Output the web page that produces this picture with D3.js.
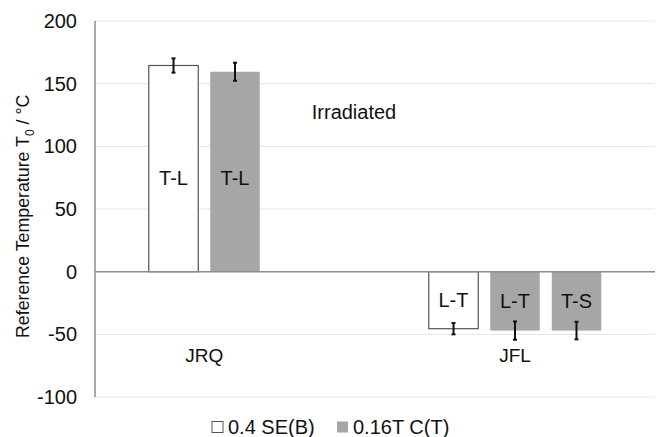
<!DOCTYPE html>
<html>
<head>
<meta charset="utf-8">
<script src="https://cdn.jsdelivr.net/npm/d3@7"></script>
<style>
  html, body { margin: 0; padding: 0; background: #fff; }
  svg text { font-family: "Liberation Sans", Arial, sans-serif; fill: #111; }
</style>
</head>
<body>
<svg id="chart" width="662" height="437"></svg>
<script>
// Materials (categories) and specimen types (series)
const categories = ["JRQ", "JFL"];
const seriesNames = ["0.4 SE(B)", "0.16T C(T)", "0.16T C(T) T-S"];
const legendNames = ["0.4 SE(B)", "0.16T C(T)"];

// T0 values in °C per series, in category order (null = no bar)
const seB = [164.5, -45.5];
const ctLT = [159.5, -47];
const ctTS = [null, -47];

// Error half-widths in °C
const errSeB = [5.7, 4.5];
const errCtLT = [7.2, 7.3];
const errCtTS = [null, 7];

// Orientation labels drawn inside bars
const orientSeB = ["T-L", "L-T"];
const orientCtLT = ["T-L", "L-T"];
const orientCtTS = [null, "T-S"];

const yTicks = [200, 150, 100, 50, 0, -50, -100];

const fills = ["#ffffff", "#a6a6a6", "#a6a6a6"];
const strokes = ["#555", "none", "none"];

const svg = d3.select("#chart");
const plotLeft = 95, plotRight = 655, plotTop = 21, plotBottom = 397;

const y = d3.scaleLinear().domain([-100, 200]).range([plotBottom, plotTop]);
const x = d3.scaleBand().domain(categories).range([plotLeft, plotRight]).padding(0);
const xs = d3.scaleBand().domain(d3.range(seriesNames.length))
  .range([0, x.bandwidth()]).paddingInner(0.195).paddingOuter(0.874);

const values = [seB, ctLT, ctTS];
const errs = [errSeB, errCtLT, errCtTS];
const orients = [orientSeB, orientCtLT, orientCtTS];

const bars = [];
seriesNames.forEach((s, si) => {
  categories.forEach((c, ci) => {
    const v = values[si][ci];
    if (v === null) return;
    bars.push({ si, c, v, e: errs[si][ci], label: orients[si][ci] });
  });
});

// Gridlines
svg.append("g")
  .selectAll("line")
  .data(yTicks.filter(t => t !== 0))
  .join("line")
  .attr("x1", plotLeft).attr("x2", plotRight)
  .attr("y1", d => y(d)).attr("y2", d => y(d))
  .attr("stroke", "#e4e4e4").attr("stroke-width", 1);

// Y axis tick labels (no tick marks), plain hyphen for negatives
const yAxis = d3.axisLeft(y).tickValues(yTicks).tickSize(0).tickPadding(18)
  .tickFormat(d => String(d));
const gy = svg.append("g").attr("transform", `translate(${plotLeft},0)`).call(yAxis);
gy.select(".domain").remove();
gy.selectAll("text")
  .style("font-family", "'Liberation Sans', Arial, sans-serif")
  .style("font-size", "20px").attr("fill", "#111");

// Axis line
svg.append("line")
  .attr("x1", plotLeft).attr("x2", plotLeft).attr("y1", plotTop).attr("y2", plotBottom)
  .attr("stroke", "#8c8c8c").attr("stroke-width", 1.5);

// Bars
svg.append("g")
  .selectAll("rect")
  .data(bars)
  .join("rect")
  .attr("x", d => x(d.c) + xs(d.si))
  .attr("width", xs.bandwidth())
  .attr("y", d => y(Math.max(0, d.v)))
  .attr("height", d => Math.abs(y(d.v) - y(0)))
  .attr("fill", d => fills[d.si])
  .attr("stroke", d => strokes[d.si])
  .attr("stroke-width", 1.2);

// Zero line
svg.append("line")
  .attr("x1", plotLeft).attr("x2", plotRight).attr("y1", y(0)).attr("y2", y(0))
  .attr("stroke", "#8c8c8c").attr("stroke-width", 1.5);

// Error bars
const eb = svg.append("g").attr("stroke", "#111").attr("stroke-width", 2);
bars.forEach(d => {
  const cx = x(d.c) + xs(d.si) + xs.bandwidth() / 2;
  const y1 = y(d.v + d.e), y2 = y(d.v - d.e);
  eb.append("line").attr("x1", cx).attr("x2", cx).attr("y1", y1).attr("y2", y2);
  eb.append("line").attr("x1", cx - 2).attr("x2", cx + 2).attr("y1", y1).attr("y2", y1);
  eb.append("line").attr("x1", cx - 2).attr("x2", cx + 2).attr("y1", y2).attr("y2", y2);
});

// Orientation labels
svg.append("g")
  .selectAll("text")
  .data(bars)
  .join("text")
  .attr("x", d => x(d.c) + xs(d.si) + xs.bandwidth() / 2)
  .attr("y", d => d.v > 0 ? y(75) : y(d.v / 2))
  .attr("dy", "0.35em")
  .attr("text-anchor", "middle")
  .style("font-size", "20px")
  .text(d => d.label);

// Material names below the bars
svg.append("g")
  .selectAll("text")
  .data(categories)
  .join("text")
  .attr("x", c => {
    const n = values.filter(v => v[categories.indexOf(c)] !== null).length;
    return x(c) + (xs(0) + xs(n - 1) + xs.bandwidth()) / 2;
  })
  .attr("y", y(-67))
  .attr("dy", "0.35em")
  .attr("text-anchor", "middle")
  .style("font-size", "19px")
  .text(c => c);

// Annotation
svg.append("text")
  .attr("x", 354).attr("y", y(122))
  .attr("text-anchor", "middle")
  .style("font-size", "20px")
  .text("Irradiated");

// Y axis title, rotated; the baseline start sits at the lower end
const title = svg.append("text")
  .attr("text-anchor", "start")
  .attr("transform", "translate(29,338) rotate(-90)")
  .style("font-size", "17.8px");
title.append("tspan").text("Reference Temperature T");
title.append("tspan").attr("dy", 5).style("font-size", "12px").text("0");
title.append("tspan").attr("dy", -5).text(" / °C");

// Legend
const legend = svg.append("g");
const legendX = [212, 337];
legendNames.forEach((name, i) => {
  legend.append("rect")
    .attr("x", legendX[i]).attr("y", 421.5)
    .attr("width", 11).attr("height", 11)
    .attr("fill", fills[i])
    .attr("stroke", i === 0 ? "#555" : "none");
  legend.append("text")
    .attr("x", legendX[i] + 16).attr("y", 433.5)
    .style("font-size", "20px")
    .text(name);
});
</script>
</body>
</html>
